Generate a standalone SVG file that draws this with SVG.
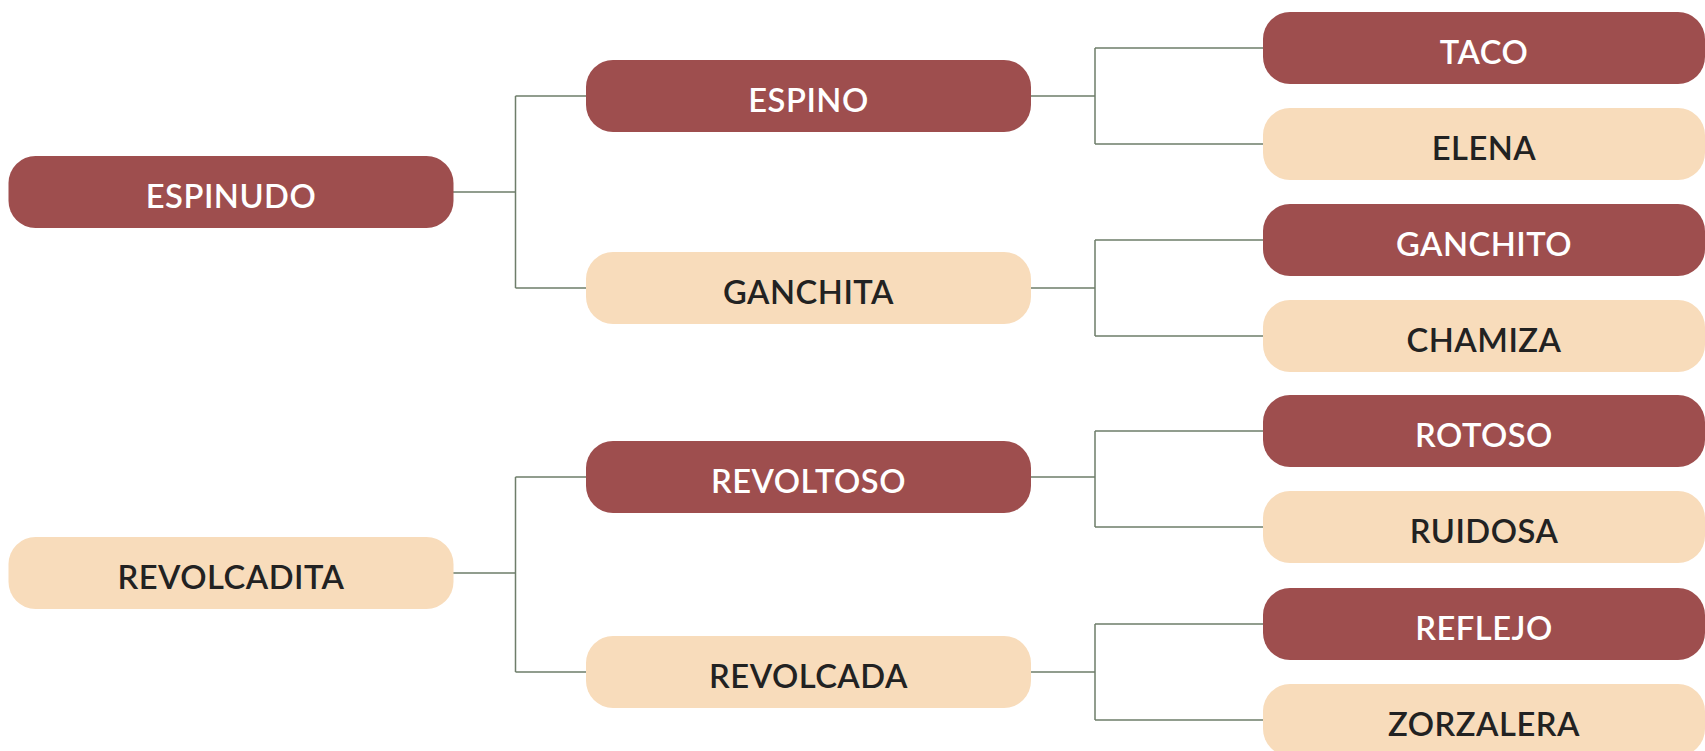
<svg xmlns="http://www.w3.org/2000/svg" width="1705" height="751" viewBox="0 0 1705 751">
<style>
.dark rect{fill:#9E4E4E}
.light rect{fill:#F8DCBB}
text{font-family:Lato,"Open Sans","Liberation Sans",sans-serif;font-weight:600;font-size:32.7px;text-anchor:middle;letter-spacing:0.5px}
.dark text{fill:#FFFFFF}
.light text{fill:#222222}
#connectors path{fill:none;stroke:#6E7D6A;stroke-width:1.5}
</style>
<rect width="1705" height="751" fill="#FFFFFF"/>
<g id="connectors">
<path d="M453 192H515.5M515.5 96V288M515.5 96H586M515.5 288H586"/>
<path d="M453 573H515.5M515.5 477V672M515.5 477H586M515.5 672H586"/>
<path d="M1031 96H1095M1095 48V144M1095 48H1263M1095 144H1263"/>
<path d="M1031 288H1095M1095 240V336M1095 240H1263M1095 336H1263"/>
<path d="M1031 477H1095M1095 431V527M1095 431H1263M1095 527H1263"/>
<path d="M1031 672H1095M1095 624V720M1095 624H1263M1095 720H1263"/>
</g>
<g id="espinudo" class="dark"><rect x="8.5" y="156" width="445" height="72" rx="27"/><text x="231" y="208">ESPINUDO</text></g>
<g id="revolcadita" class="light"><rect x="8.5" y="537" width="445" height="72" rx="27"/><text x="231" y="589">REVOLCADITA</text></g>
<g id="espino" class="dark"><rect x="586" y="60" width="445" height="72" rx="27"/><text x="808.5" y="112">ESPINO</text></g>
<g id="ganchita" class="light"><rect x="586" y="252" width="445" height="72" rx="27"/><text x="808.5" y="304">GANCHITA</text></g>
<g id="revoltoso" class="dark"><rect x="586" y="441" width="445" height="72" rx="27"/><text x="808.5" y="493">REVOLTOSO</text></g>
<g id="revolcada" class="light"><rect x="586" y="636" width="445" height="72" rx="27"/><text x="808.5" y="688">REVOLCADA</text></g>
<g id="taco" class="dark"><rect x="1263" y="12" width="442" height="72" rx="27"/><text x="1484" y="64">TACO</text></g>
<g id="elena" class="light"><rect x="1263" y="108" width="442" height="72" rx="27"/><text x="1484" y="160">ELENA</text></g>
<g id="ganchito" class="dark"><rect x="1263" y="204" width="442" height="72" rx="27"/><text x="1484" y="256">GANCHITO</text></g>
<g id="chamiza" class="light"><rect x="1263" y="300" width="442" height="72" rx="27"/><text x="1484" y="352">CHAMIZA</text></g>
<g id="rotoso" class="dark"><rect x="1263" y="395" width="442" height="72" rx="27"/><text x="1484" y="447">ROTOSO</text></g>
<g id="ruidosa" class="light"><rect x="1263" y="491" width="442" height="72" rx="27"/><text x="1484" y="543">RUIDOSA</text></g>
<g id="reflejo" class="dark"><rect x="1263" y="588" width="442" height="72" rx="27"/><text x="1484" y="640">REFLEJO</text></g>
<g id="zorzalera" class="light"><rect x="1263" y="684" width="442" height="72" rx="27"/><text x="1484" y="736">ZORZALERA</text></g>
</svg>
